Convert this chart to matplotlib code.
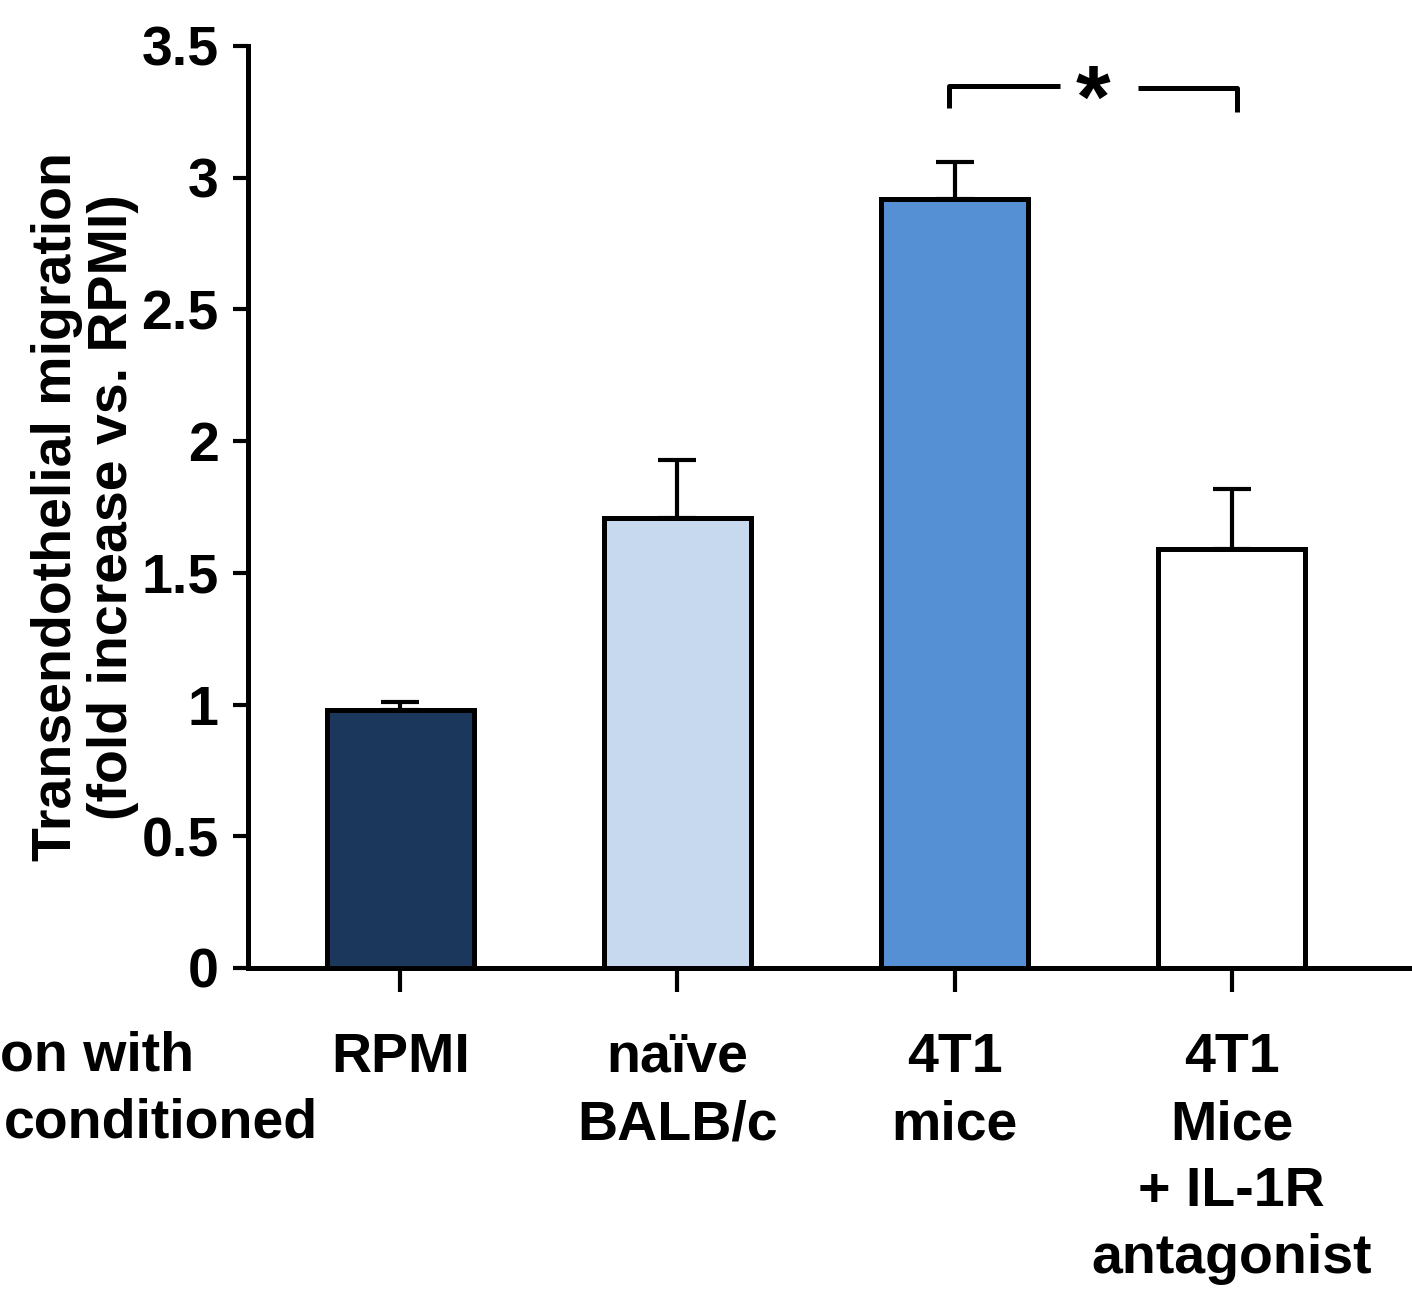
import numpy as np
import matplotlib
matplotlib.use("Agg")
import matplotlib.pyplot as plt

plt.rcParams['font.family'] = ['Liberation Sans', 'DejaVu Sans']
plt.rcParams['font.weight'] = 'bold'

groups = ["RPMI", "naïve\nBALB/c", "4T1\nmice", "4T1\nMice\n+ IL-1R\nantagonist"]
means = [0.98, 1.71, 2.92, 1.59]
sems = [0.03, 0.22, 0.14, 0.23]
colors = ["#1b375c", "#c7d9ef", "#5590d5", "#ffffff"]
yticks = [0, 0.5, 1, 1.5, 2, 2.5, 3, 3.5]
ytick_labels = ["0", "0.5", "1", "1.5", "2", "2.5", "3", "3.5"]

fig = plt.figure(figsize=(14.12, 12.92), dpi=100)
ax = fig.add_axes([0.1756, 0.2508, 0.8244, 0.7136])

x = np.arange(len(groups))
ax.bar(x, means, width=0.53, color=colors, edgecolor='black', linewidth=3.6, zorder=2)
ax.errorbar(x, means, yerr=[np.zeros(len(sems)), sems], fmt='none', ecolor='black',
            elinewidth=3, capsize=13.5, capthick=3, zorder=1)

ax.set_xlim(-0.549, 3.65)
ax.set_ylim(0, 3.5)
ax.set_yticks(yticks)
ax.set_yticklabels(ytick_labels, fontsize=40, fontweight='bold')
ax.set_xticks(x)
ax.set_xticklabels(groups, fontsize=40, fontweight='bold', linespacing=1.38, va='top')

for s in ['top', 'right']:
    ax.spines[s].set_visible(False)
for s in ['left', 'bottom']:
    ax.spines[s].set_linewidth(3.6)
ax.tick_params(axis='y', length=11, width=3, pad=10)
ax.tick_params(axis='x', length=17, width=3, pad=29)

ax.set_ylabel("Transendothelial migration\n(fold increase vs. RPMI)", fontsize=40,
              fontweight='bold', linespacing=1.1, labelpad=2)

# significance bracket
ax.plot([1.98, 1.98, 2.38], [3.265, 3.35, 3.35], color='black', lw=3.6, clip_on=False,
        solid_capstyle='butt')
ax.plot([2.66, 3.02, 3.02], [3.34, 3.34, 3.25], color='black', lw=3.6, clip_on=False,
        solid_capstyle='butt')
ax.text(2.50, 3.28, "*", fontsize=64, fontweight='bold', ha='center', va='center')

fig.text(0.0, 0.1825, "on with", fontsize=40, fontweight='bold', ha='left', va='center')
fig.text(0.003, 0.1305, "conditioned", fontsize=40, fontweight='bold', ha='left', va='center')

fig.savefig("out.png", dpi=100)
